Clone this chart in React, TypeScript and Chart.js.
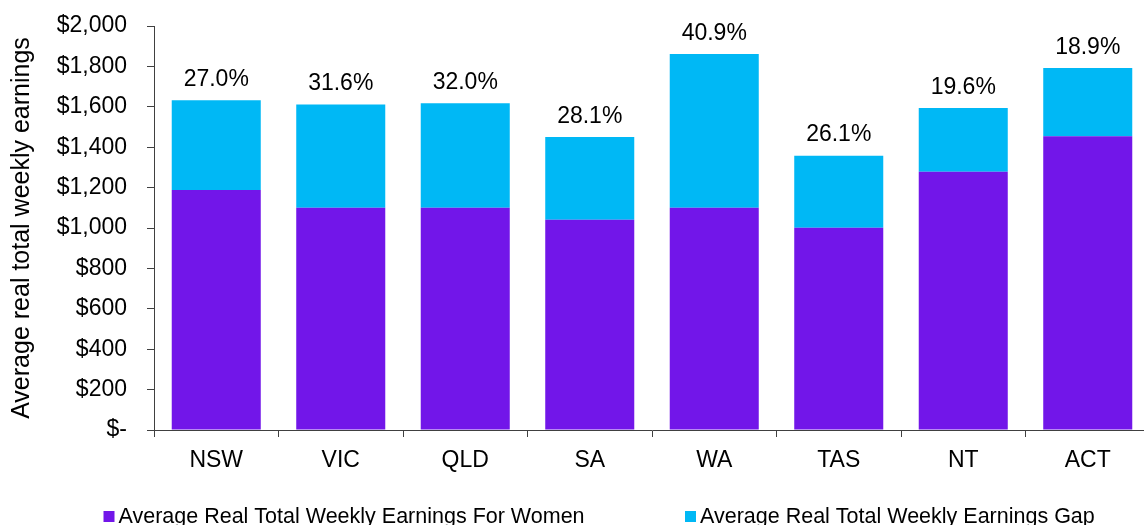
import { useEffect, useRef } from 'react';
import { Chart, registerables } from 'chart.js';

Chart.register(...registerables);

const categories = ['NSW', 'VIC', 'QLD', 'SA', 'WA', 'TAS', 'NT', 'ACT'];
const womenEarnings = [1188, 1100, 1100, 1041, 1100, 1001, 1279, 1454];
const earningsGap = [444, 512, 517, 409, 761, 357, 315, 338];
const gapPercentLabels = ['27.0%', '31.6%', '32.0%', '28.1%', '40.9%', '26.1%', '19.6%', '18.9%'];
const seriesNames = [
  'Average Real Total Weekly Earnings For Women',
  'Average Real Total Weekly Earnings Gap',
];
const yTickValues = [0, 200, 400, 600, 800, 1000, 1200, 1400, 1600, 1800, 2000];

const FONT = "'Liberation Sans', Arial, Helvetica, sans-serif";
const PURPLE = '#7216E9';
const CYAN = '#00B8F5';
const AXIS = '#404040';

export default function App() {
  const ref = useRef<HTMLCanvasElement>(null);

  useEffect(() => {
    const canvas = ref.current;
    if (!canvas) return;

    const labelPlugin = {
      id: 'gapLabels',
      afterDatasetsDraw(chart: any) {
        const ctx = chart.ctx;
        const meta = chart.getDatasetMeta(1);
        ctx.save();
        ctx.font = `23px ${FONT}`;
        ctx.fillStyle = '#000';
        ctx.textAlign = 'center';
        ctx.textBaseline = 'alphabetic';
        meta.data.forEach((bar: any, i: number) => {
          ctx.fillText(gapPercentLabels[i], bar.x, bar.y - 14.5);
        });
        ctx.restore();
      },
    };

    const legendX = [103.5, 685];
    const legendPlugin = {
      id: 'customLegend',
      afterDraw(chart: any) {
        const ctx = chart.ctx;
        ctx.save();
        ctx.font = `21.5px ${FONT}`;
        ctx.textAlign = 'left';
        ctx.textBaseline = 'alphabetic';
        chart.data.datasets.forEach((ds: any, i: number) => {
          const x = legendX[i];
          ctx.fillStyle = ds.backgroundColor;
          ctx.fillRect(x, 511, 11, 11);
          ctx.fillStyle = '#000';
          ctx.fillText(ds.label, x + 15, 522.5);
        });
        ctx.restore();
      },
    };

    const chart = new Chart(canvas, {
      type: 'bar',
      data: {
        labels: categories,
        datasets: [
          {
            label: seriesNames[0],
            data: womenEarnings,
            backgroundColor: PURPLE,
            borderWidth: 0,
            categoryPercentage: 1,
            barPercentage: 0.715,
          },
          {
            label: seriesNames[1],
            data: earningsGap,
            backgroundColor: CYAN,
            borderWidth: 0,
            categoryPercentage: 1,
            barPercentage: 0.715,
          },
        ],
      },
      options: {
        responsive: false,
        animation: false,
        devicePixelRatio: 1,
        layout: { padding: { top: 26, right: 0, left: 0, bottom: 0 } },
        plugins: {
          legend: { display: false },
          tooltip: { enabled: false },
        },
        scales: {
          x: {
            stacked: true,
            offset: true,
            grid: {
              offset: true,
              drawOnChartArea: false,
              drawTicks: true,
              tickLength: 7,
              color: AXIS,
            },
            border: { display: true, color: AXIS, width: 1 },
            ticks: {
              color: '#000',
              font: { family: FONT, size: 23 },
              padding: 10,
              maxRotation: 0,
            },
            afterFit(scale: any) {
              scale.height = 95;
              scale.paddingLeft = 0;
              scale.paddingRight = 0;
            },
          },
          y: {
            stacked: true,
            min: 0,
            max: 2000,
            afterBuildTicks(scale: any) {
              scale.ticks = yTickValues.map((v) => ({ value: v }));
            },
            grid: {
              drawOnChartArea: false,
              drawTicks: true,
              tickLength: 7,
              color: AXIS,
            },
            border: { display: true, color: AXIS, width: 1 },
            ticks: {
              color: '#000',
              font: { family: FONT, size: 23 },
              padding: 20,
              callback: (v: any) =>
                Number(v) === 0 ? '$-' : '$' + Number(v).toLocaleString('en-US'),
            },
            title: {
              display: true,
              text: 'Average real total weekly earnings',
              color: '#000',
              font: { family: FONT, size: 25 },
              padding: { top: 7, bottom: 0 },
            },
            afterFit(scale: any) {
              scale.width = 154;
              scale.paddingTop = 0;
              scale.paddingBottom = 0;
            },
          },
        },
      },
      plugins: [labelPlugin, legendPlugin],
    });

    return () => chart.destroy();
  }, []);

  return (
    <div
      style={{
        position: 'absolute',
        left: 0,
        top: 0,
        width: 1144,
        height: 525,
        overflow: 'hidden',
        background: '#fff',
      }}
    >
      <canvas ref={ref} width={1150} height={525} style={{ display: 'block', width: 1150, height: 525 }} />
    </div>
  );
}
